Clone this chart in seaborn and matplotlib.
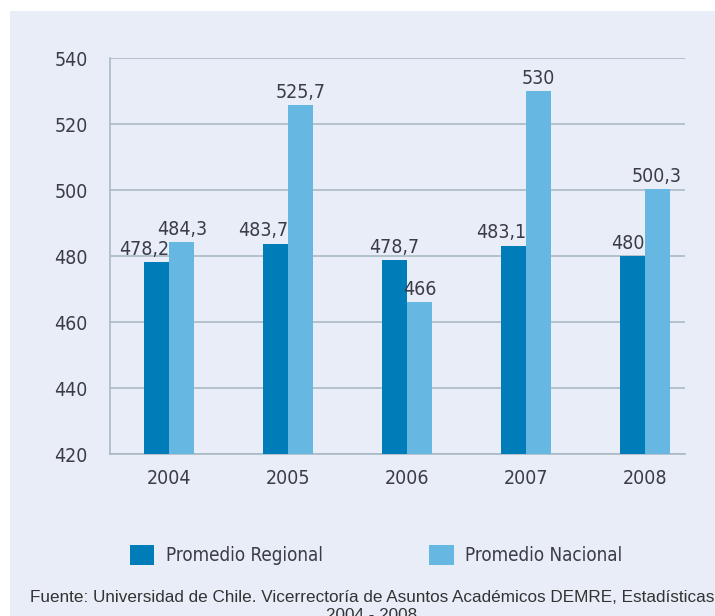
import matplotlib
matplotlib.use('Agg')
import matplotlib.pyplot as plt
from matplotlib.patches import Patch, Rectangle
import pandas as pd
import seaborn as sns

# data
years = ['2004', '2005', '2006', '2007', '2008']
regional = [478.2, 483.7, 478.7, 483.1, 480.0]
nacional = [484.3, 525.7, 466.0, 530.0, 500.3]
series_names = ['Promedio Regional', 'Promedio Nacional']
y_ticks = [420, 440, 460, 480, 500, 520, 540]
source = ('Fuente: Universidad de Chile. Vicerrectoría de Asuntos Académicos DEMRE, Estadísticas\n'
          '2004 - 2008')

dark = '#007DB8'
light = '#66B8E2'
bg = '#E9EDF8'
grid_col = '#A9BAC4'
text_col = '#3A3D47'

df = pd.DataFrame({
    'year': years * 2,
    'value': regional + nacional,
    'serie': [series_names[0]] * len(years) + [series_names[1]] * len(years),
})

sns.set_style('white')
plt.rcParams['font.family'] = ['DejaVu Sans']
plt.rcParams['font.stretch'] = 'condensed'

fig = plt.figure(figsize=(7.15, 6.16), dpi=100, facecolor='white')
fig.patches.append(Rectangle((10 / 715, 0), 1, 1 - 11 / 616, transform=fig.transFigure,
                             facecolor=bg, edgecolor='none', zorder=-10))
ax = fig.add_axes([110 / 715, 1 - 454 / 616, 575 / 715, 396 / 616])
ax.set_facecolor(bg)

sns.barplot(data=df, x='year', y='value', hue='serie', palette=[dark, light],
            width=0.42, saturation=1, ax=ax, legend=False, zorder=3, linewidth=0)

ax.set_ylim(420, 540)
ax.set_xlim(-0.5, 4.34)
ax.set_yticks(y_ticks)
ax.set_yticklabels([str(t) for t in y_ticks])
ax.yaxis.grid(True, color=grid_col, linewidth=1.2, zorder=0)
ax.set_axisbelow(True)
for side in ['top', 'right']:
    ax.spines[side].set_visible(False)
for side in ['left', 'bottom']:
    ax.spines[side].set_color(grid_col)
    ax.spines[side].set_linewidth(1.2)
ax.set_xlabel('')
ax.set_ylabel('')
ax.tick_params(axis='y', length=0, pad=16, labelsize=14, labelcolor=text_col)
ax.tick_params(axis='x', which='major', length=0, pad=11, labelsize=14, labelcolor=text_col)
ax.set_xticks([0.5, 1.5, 2.5, 3.5], minor=True)
ax.tick_params(axis='x', which='minor', length=10, width=1.2, color=grid_col, direction='out')

# value labels, comma as decimal separator
def fmt(v):
    return (f'{v:.1f}'.rstrip('0').rstrip('.')).replace('.', ',')

reg_bars = ax.containers[0]
nac_bars = ax.containers[1]
for rb, nb, rv, nv in zip(reg_bars, nac_bars, regional, nacional):
    if nv > rv:
        ax.text(rb.get_x() + rb.get_width(), rv + 1, fmt(rv), ha='right', va='bottom',
                fontsize=14, color=text_col)
    else:
        ax.text(rb.get_x() + rb.get_width() / 2, rv + 1, fmt(rv), ha='center', va='bottom',
                fontsize=14, color=text_col)
    ax.text(nb.get_x() + nb.get_width() / 2, nv + 1, fmt(nv), ha='center', va='bottom',
            fontsize=14, color=text_col)

handles = [Patch(facecolor=dark, edgecolor='none'), Patch(facecolor=light, edgecolor='none')]
fig.legend(handles, series_names, loc='center left', bbox_to_anchor=(113 / 715, 1 - 555 / 616),
           ncol=2, frameon=False, fontsize=13.5, handlelength=1.3, handleheight=1.3,
           handletextpad=0.6, columnspacing=5.7, labelcolor=text_col)

fig.text(372 / 715, 1 - 590 / 616, source, ha='center', va='top', fontsize=12.3,
         color='#333333', family=['Liberation Sans', 'DejaVu Sans'], stretch='normal',
         linespacing=1.25)

fig.savefig('out.png', dpi=100, facecolor=fig.get_facecolor())
